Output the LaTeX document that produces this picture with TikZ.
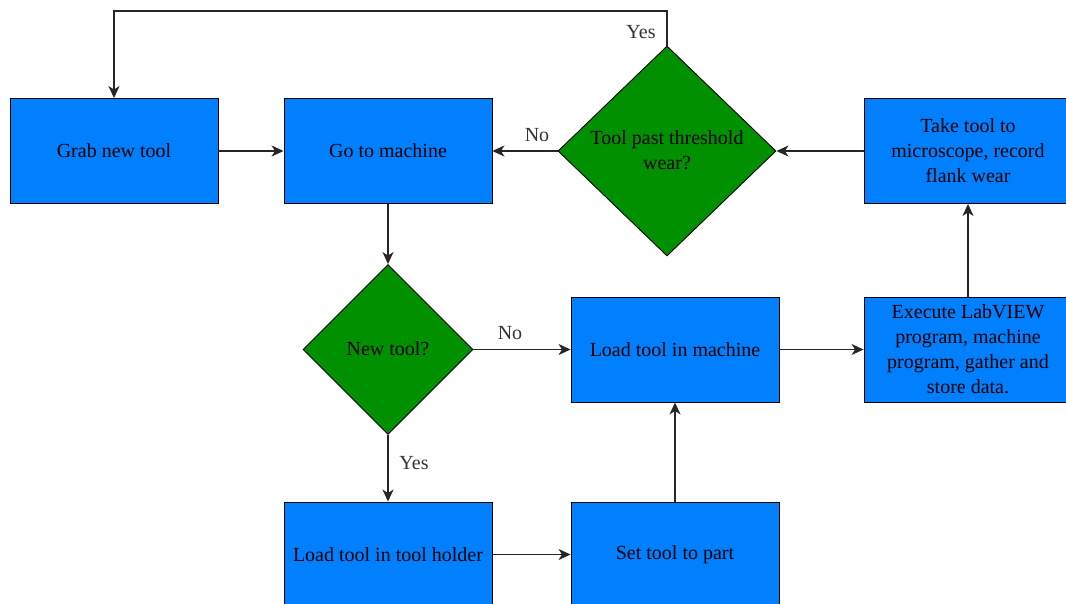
\documentclass[tikz,border=0pt]{standalone}
\usepackage{fontspec}
\setmainfont{Liberation Serif}[Ligatures=TeX]
\newfontfamily\tnrfont{Liberation Serif}
\usetikzlibrary{shapes.geometric,arrows.meta}
\definecolor{boxblue}{HTML}{007FFF}
\definecolor{decgreen}{HTML}{009000}
\newcommand{\dtext}[1]{\smash{\raisebox{-0.3em}{\makebox[0pt][c]{\begin{tabular}{@{}c@{}}#1\end{tabular}}}}}
\begin{document}
\begin{tikzpicture}[x=1pt,y=-1pt,
  every node/.style={font=\tnrfont\fontsize{20}{25}\selectfont},
  procbox/.style={rectangle,draw=black,line width=0.9pt,fill=boxblue,minimum width=208pt,minimum height=105pt,inner sep=0pt,align=center},
  decbox/.style={diamond,draw=black,line width=0.9pt,fill=decgreen,inner sep=0pt},
  conn/.style={draw=black!85,line width=1.4pt,-{Stealth[length=12pt,width=11pt,inset=3.5pt]}},
  lbl/.style={text=black!80,inner sep=0pt}
]
\useasboundingbox (0,0) rectangle (1066,603);
\clip (0,0) rectangle (1066,603);
\fill[white] (0,0) rectangle (1066,603);

\node[procbox] (grab) at (114,151) {Grab new tool};
\node[procbox] (go) at (388,151) {Go to machine};
\node[decbox,minimum width=218pt,minimum height=210pt] (thr) at (667,151) {\dtext{Tool past threshold\\wear?}};
\node[procbox] (take) at (968,151) {Take tool to\\microscope, record\\flank wear};
\node[decbox,minimum width=170pt,minimum height=170pt] (new) at (388,349.5) {\dtext{New tool?}};
\node[procbox] (loadm) at (675,349.5) {Load tool in machine};
\node[procbox] (exec) at (968,349.5) {Execute LabVIEW\\program, machine\\program, gather and\\store data.};
\node[procbox] (holder) at (388,554.5) {Load tool in tool holder};
\node[procbox] (setp) at (675,554.5) {Set tool to part};

\coordinate (topr) at (667,11);
\coordinate (topl) at (114,11);

\draw[conn] (grab) -- (go);
\draw[conn] (go) -- (new);
\draw[conn] (new.east) -- (loadm.west);
\draw[conn] (new.south) -- (holder.north);
\draw[conn] (holder) -- (setp);
\draw[conn] (setp) -- (loadm);
\draw[conn] (loadm) -- (exec);
\draw[conn] (exec) -- (take);
\draw[conn] (take.west) -- (thr.east);
\draw[conn] (thr.west) -- (go.east);
\draw[conn] (thr.north) -- (topr) -- (topl) -- (grab.north);

\node[lbl,anchor=center] (l1) at (641,32) {Yes};
\node[lbl,anchor=center] (l2) at (537,135) {No};
\node[lbl,anchor=center] (l3) at (510,333) {No};
\node[lbl,anchor=center] (l4) at (414,463) {Yes};
\end{tikzpicture}
\end{document}
